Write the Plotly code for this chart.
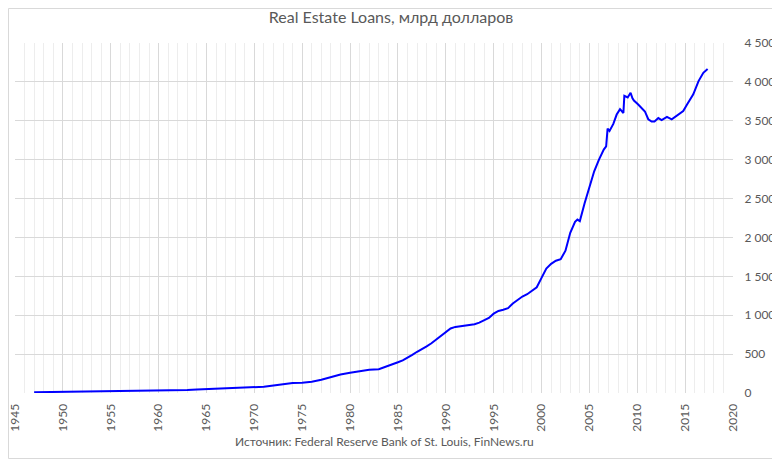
import plotly.graph_objects as go

years = [1947.0, 1948.0, 1949.0, 1950.0, 1951.0, 1952.0, 1953.0, 1954.0, 1955.0, 1956.0,
         1957.0, 1958.0, 1959.0, 1960.0, 1961.0, 1962.0, 1963.0, 1964.0, 1965.0, 1966.0,
         1967.0, 1968.0, 1969.0, 1970.0, 1971.0, 1972.0, 1973.0, 1974.0, 1975.0, 1976.0,
         1977.0, 1978.0, 1979.0, 1980.0, 1981.0, 1982.0, 1983.0, 1984.0, 1985.0, 1985.5,
         1986.0, 1986.5, 1987.0, 1987.5, 1988.0, 1988.5, 1989.0, 1989.5, 1990.0, 1990.5,
         1991.0, 1991.5, 1992.0, 1992.5, 1993.0, 1993.5, 1994.0, 1994.5, 1995.0, 1995.5,
         1996.0, 1996.5, 1997.0, 1997.5, 1998.0, 1998.5, 1999.0, 1999.5, 2000.0, 2000.5,
         2001.0, 2001.5, 2002.0, 2002.25, 2002.5, 2003.0, 2003.5, 2003.75, 2004.0, 2004.5,
         2005.0, 2005.5, 2006.0, 2006.5, 2006.75, 2006.9, 2007.1, 2007.5, 2007.85, 2008.2,
         2008.55, 2008.65, 2009.0, 2009.3, 2009.5, 2009.65, 2010.1, 2010.5, 2010.8, 2011.15,
         2011.5, 2011.8, 2012.2, 2012.55, 2013.1, 2013.6, 2014.1, 2014.8, 2015.2, 2015.85,
         2016.4, 2016.9, 2017.35]
loans = [9.4, 10.9, 11.6, 13.5, 14.8, 15.8, 16.7, 18.3, 20.8, 22.6,
         23.3, 25.2, 28.0, 28.8, 30.0, 33.7, 38.5, 43.5, 49.5, 54.0,
         58.5, 65.5, 70.5, 72.5, 80, 97, 117, 128, 133, 145,
         170, 205, 238, 260, 280, 298, 305, 345, 395, 420,
         450, 490, 530, 560, 600, 640, 690, 740, 790, 830,
         850, 858, 865, 875, 885, 905, 930, 965, 1020, 1055,
         1070, 1090, 1150, 1200, 1240, 1270, 1310, 1360, 1480, 1600,
         1660, 1700, 1720, 1780, 1830, 2060, 2200, 2230, 2210, 2440,
         2650, 2850, 3000, 3130, 3170, 3400, 3370, 3460, 3580, 3650,
         3600, 3820, 3800, 3860, 3790, 3760, 3710, 3660, 3620, 3520,
         3490, 3490, 3535, 3510, 3550, 3518, 3560, 3625, 3710, 3840,
         4010, 4117, 4165]

title_text = "Real Estate Loans, млрд долларов"
source_text = "Источник: Federal Reserve Bank of St. Louis, FinNews.ru"

FONT = "Lato"
GRAY = "#595959"

W, H = 772, 451
L, R, T, B = 7, 47, 35, 66

fig = go.Figure()
fig.add_trace(go.Scatter(x=years, y=loans, mode="lines",
                         line=dict(color="#0000ff", width=2), hoverinfo="skip"))

pw = W - L - R
ph = H - T - B

fig.update_layout(
    width=W, height=H,
    margin=dict(l=L, r=R, t=T, b=B, autoexpand=False),
    paper_bgcolor="white", plot_bgcolor="white",
    separators=", ",
    showlegend=False,
    font=dict(family=FONT, color=GRAY, size=12),
    title=dict(text=title_text, x=(391 - 8 - L) / pw, xref="paper", xanchor="center",
               y=1 - 9 / H, yref="container", yanchor="middle",
               font=dict(family=FONT, size=16, color=GRAY)),
    xaxis=dict(range=[1945, 2020], tickmode="linear", tick0=1945, dtick=5,
               tickangle=-90, showgrid=True, gridcolor="#d9d9d9", gridwidth=1,
               minor=dict(dtick=1, tick0=1945, showgrid=True, gridcolor="#ededed", gridwidth=1),
               zeroline=False, showline=False, ticks="outside", ticklen=5, tickcolor="white",
               ticklabeloverflow="allow",
               tickfont=dict(size=12, color=GRAY), fixedrange=True),
    yaxis=dict(range=[0, 4500], tickmode="linear", tick0=0, dtick=500, side="right",
               tickformat=",d", showgrid=True, gridcolor="#d9d9d9", gridwidth=1,
               zeroline=False, showline=False, ticks="outside", ticklen=8, tickcolor="white",
               ticklabeloverflow="allow",
               tickfont=dict(size=12, color=GRAY), fixedrange=True),
    annotations=[dict(text=source_text, xref="paper", yref="paper",
                      x=(384 - 8 - L) / pw, y=-(441 - 8 - (T + ph)) / ph,
                      xanchor="center", yanchor="middle", showarrow=False,
                      font=dict(family=FONT, size=12, color=GRAY))],
    shapes=[dict(type="rect", xref="paper", yref="paper",
                 x0=(0.5 - L) / pw, x1=(W - 0.5 - L) / pw,
                 y0=-(H - 0.5 - (T + ph)) / ph, y1=(T + ph - 0.5) / ph,
                 line=dict(color="#d9d9d9", width=1), fillcolor="rgba(0,0,0,0)", layer="below")],
)

fig.write_html("out.html")
